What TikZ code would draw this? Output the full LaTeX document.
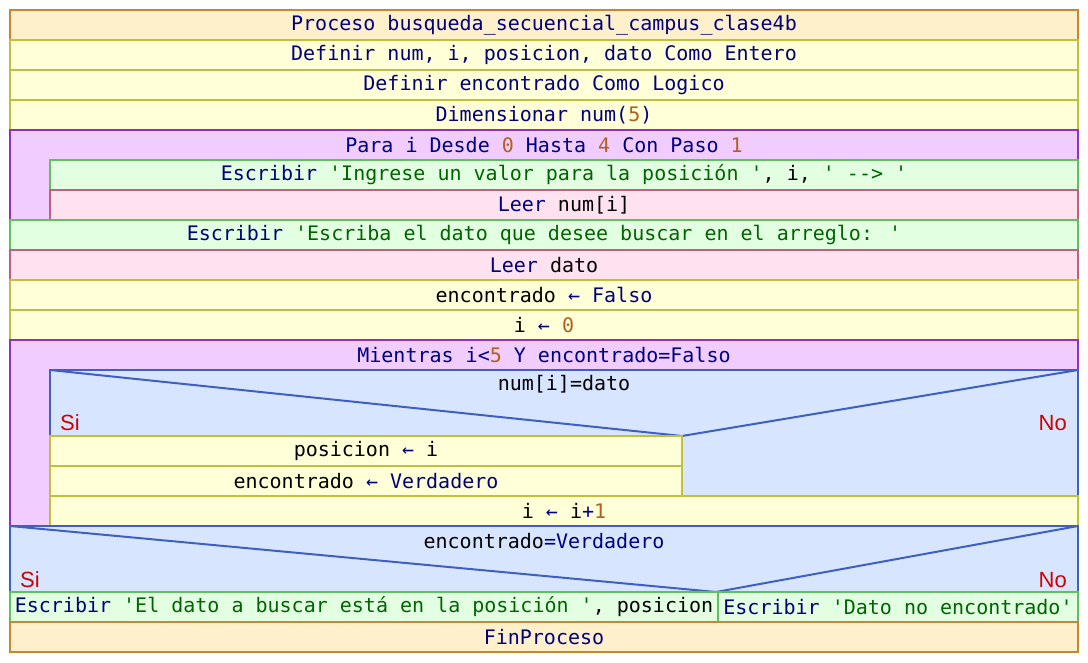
\documentclass[tikz,border=0pt]{standalone}
\usepackage{fontspec}
\newfontfamily\codefont{DejaVu Sans Mono}
\newfontfamily\labelfont{Liberation Sans}

% block colours
\definecolor{procfill}{HTML}{FFF0CC}
\definecolor{procdraw}{HTML}{C8862E}
\definecolor{asigfill}{HTML}{FFFFD8}
\definecolor{asigdraw}{HTML}{C0C040}
\definecolor{loopfill}{HTML}{F1CCFF}
\definecolor{loopdraw}{HTML}{9030C0}
\definecolor{outfill}{HTML}{E2FFE2}
\definecolor{outdraw}{HTML}{60C060}
\definecolor{infill}{HTML}{FFE2F0}
\definecolor{indraw}{HTML}{C06080}
\definecolor{iffill}{HTML}{D8E5FF}
\definecolor{ifdraw}{HTML}{4060C0}
% text colours
\definecolor{kwcol}{HTML}{000080}
\definecolor{strcol}{HTML}{006400}
\definecolor{numcol}{HTML}{B06020}
\definecolor{branchcol}{HTML}{D00000}

\newcommand\kwd[1]{\textcolor{kwcol}{#1}}
\newcommand\strg[1]{\textcolor{strcol}{#1}}
\newcommand\numb[1]{\textcolor{numcol}{#1}}
\newcommand\lar{\kwd{←}}

% #1 style, #2 name, #3 x1, #4 y1, #5 x2, #6 y2, #7 text
\newcommand\cellbox[7]{%
  \node[#1, anchor=north west, minimum width={#5pt-#3pt},
        minimum height={#6pt-#4pt}] (#2) at (#3,#4) {#7};}

\tikzset{
  cell/.style={rectangle, draw, line width=2pt, inner sep=0pt, outer sep=0pt,
               font=\codefont\fontsize{20}{24}\selectfont},
  proc/.style={cell, fill=procfill, draw=procdraw},
  asig/.style={cell, fill=asigfill, draw=asigdraw},
  loopblk/.style={cell, fill=loopfill, draw=loopdraw},
  outblk/.style={cell, fill=outfill, draw=outdraw},
  inblk/.style={cell, fill=infill, draw=indraw},
  ifblk/.style={cell, fill=iffill, draw=ifdraw},
  cond/.style={draw=ifdraw, line width=2pt},
  txt/.style={inner sep=0pt, font=\codefont\fontsize{20}{24}\selectfont},
  branch/.style={inner sep=0pt, text=branchcol, font=\labelfont\fontsize{22}{26}\selectfont},
}

\begin{document}
\begin{tikzpicture}[x=1pt, y=-1pt]
\useasboundingbox (0,0) rectangle (1088,662);

\cellbox{proc}{proc}{10}{10}{1078}{40}{\kwd{Proceso busqueda\_secuencial\_campus\_clase4b}}
\cellbox{asig}{def1}{10}{40}{1078}{70}{\kwd{Definir num, i, posicion, dato Como Entero}}
\cellbox{asig}{def2}{10}{70}{1078}{100}{\kwd{Definir encontrado Como Logico}}
\cellbox{asig}{dim}{10}{100}{1078}{130}{\kwd{Dimensionar num(}\numb{5}\kwd{)}}

% Para loop
\cellbox{loopblk}{para}{10}{130}{1078}{220}{}
\node[txt] (parahd) at (544,145) {\kwd{Para i Desde} \numb{0} \kwd{Hasta} \numb{4} \kwd{Con Paso} \numb{1}};
\cellbox{outblk}{esc1}{50}{160}{1078}{190}{\kwd{Escribir} \strg{'Ingrese un valor para la posición '}, i, \strg{' --> '}}
\cellbox{inblk}{leer1}{50}{190}{1078}{220}{\kwd{Leer} num[i]}

\cellbox{outblk}{esc2}{10}{220}{1078}{250}{\kwd{Escribir} \strg{'Escriba el dato que desee buscar en el arreglo: '}}
\cellbox{inblk}{leer2}{10}{250}{1078}{280}{\kwd{Leer} dato}
\cellbox{asig}{as1}{10}{280}{1078}{310}{encontrado \lar{} \kwd{Falso}}
\cellbox{asig}{as2}{10}{310}{1078}{340}{i \lar{} \numb{0}}

% Mientras loop
\cellbox{loopblk}{mient}{10}{340}{1078}{526}{}
\node[txt] (mienthd) at (544,355) {\kwd{Mientras i<}\numb{5} \kwd{Y encontrado=Falso}};

% inner Si
\cellbox{ifblk}{if1}{50}{370}{1078}{496}{}
\coordinate (if1split) at (682,436);
\draw[cond] (if1.north west) -- (if1split) -- (if1.north east);
\node[txt] (if1cond) at (564,384) {num[i]=dato};
\node[branch, anchor=base west] (if1si) at (60,430) {Si};
\node[branch, anchor=base east] (if1no) at (1067,430) {No};
\cellbox{asig}{as3}{50}{436}{682}{466}{posicion \lar{} i}
\cellbox{asig}{as4}{50}{466}{682}{496}{encontrado \lar{} \kwd{Verdadero}}
\cellbox{asig}{as5}{50}{496}{1078}{526}{i \lar{} i\kwd{+}\numb{1}}

% final Si
\cellbox{ifblk}{if2}{10}{526}{1078}{592}{}
\coordinate (if2split) at (716,592);
\draw[cond] (if2.north west) -- (if2split) -- (if2.north east);
\node[txt] (if2cond) at (544,541) {encontrado\kwd{=Verdadero}};
\node[branch, anchor=base west] (if2si) at (20,587) {Si};
\node[branch, anchor=base east] (if2no) at (1067,587) {No};
\cellbox{outblk}{esc3}{10}{592}{718}{622}{\kwd{Escribir} \strg{'El dato a buscar está en la posición '}, posicion}
\cellbox{outblk}{esc4}{718}{592}{1078}{622}{\kwd{Escribir} \strg{'Dato no encontrado'}}

\cellbox{proc}{fin}{10}{622}{1078}{652}{\kwd{FinProceso}}
\end{tikzpicture}
\end{document}
